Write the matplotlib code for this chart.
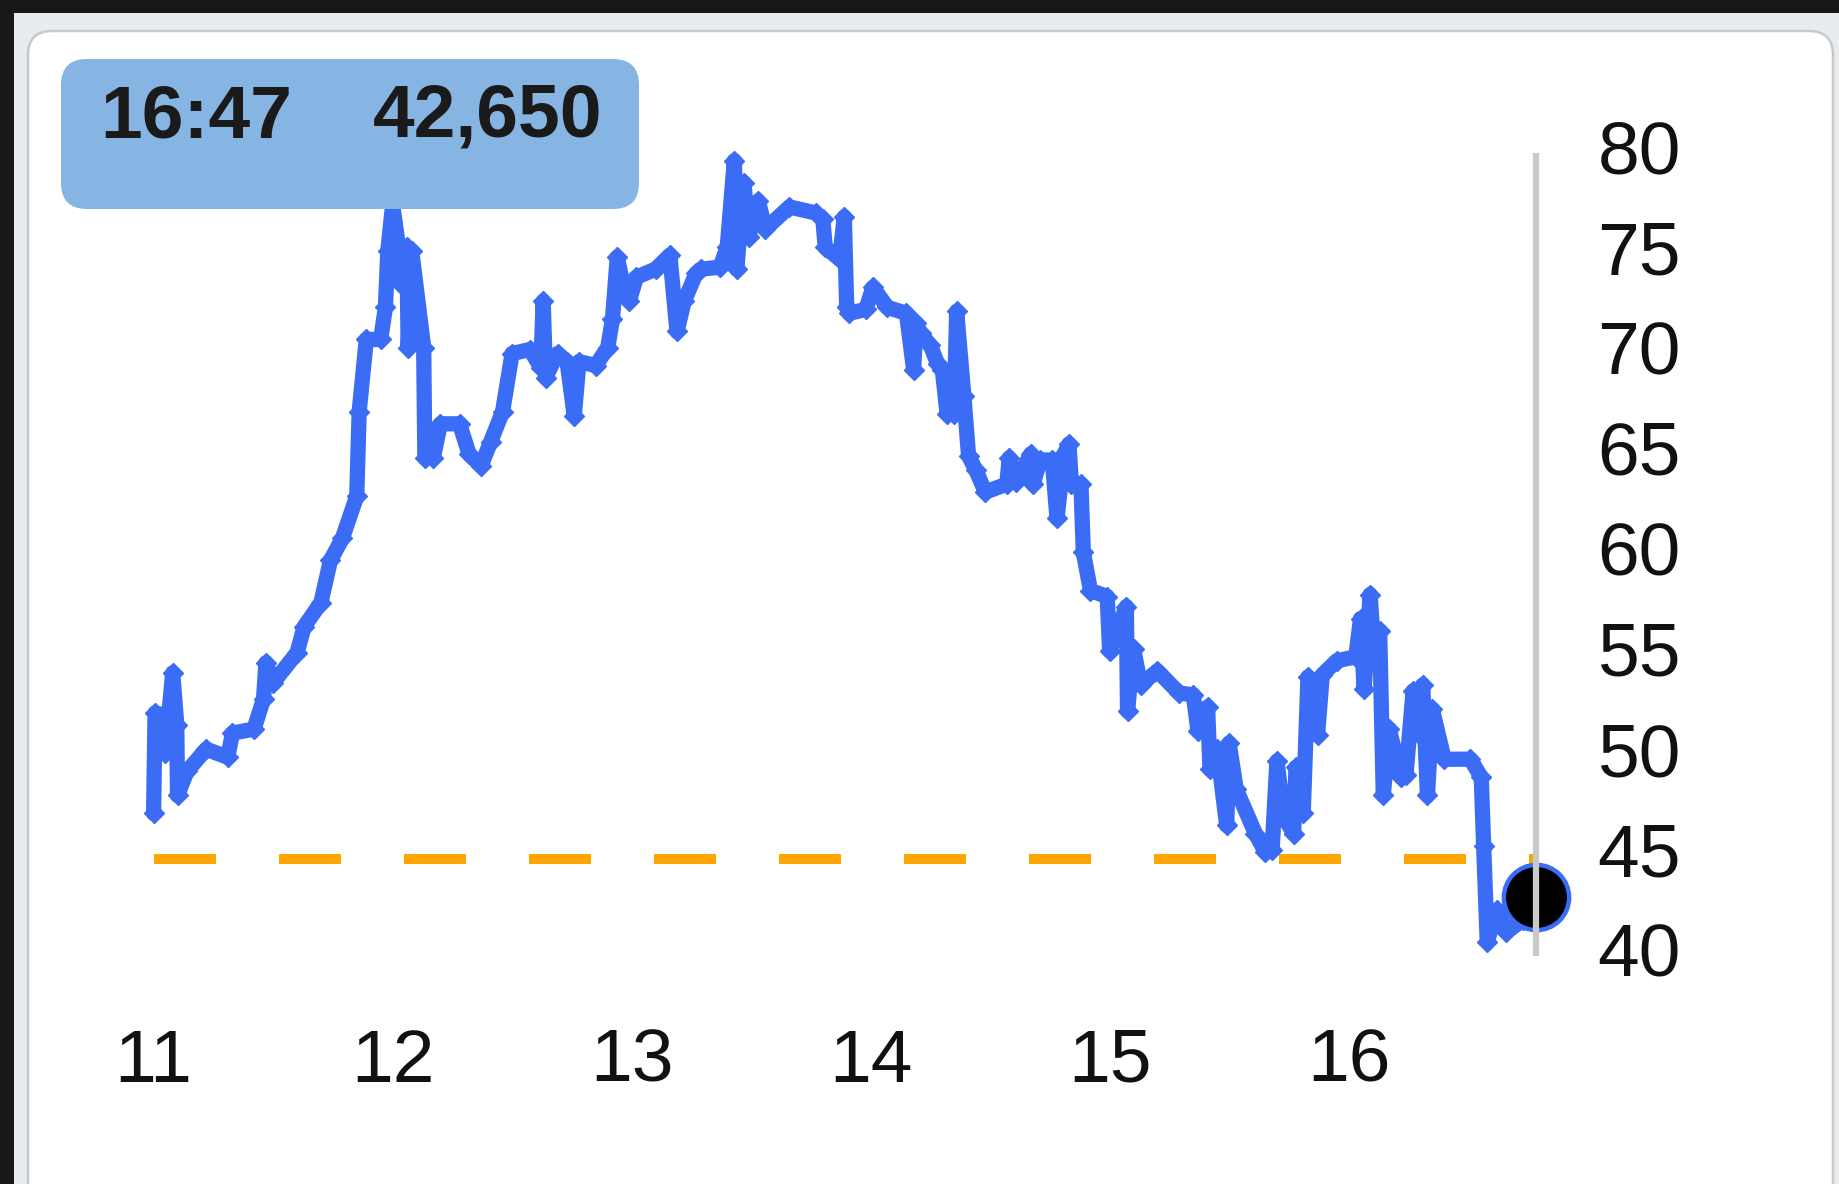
"""Intraday price line with reference level and current-time marker."""

import matplotlib

matplotlib.use("Agg")
import matplotlib.pyplot as plt
from matplotlib.patches import FancyBboxPatch, Rectangle

plt.rcParams["font.family"] = ["Liberation Sans", "DejaVu Sans"]

# hour of day (decimal) and price in thousands
hours = [
    11.00, 11.006, 11.04, 11.048, 11.08, 11.097, 11.10, 11.14, 11.22, 11.31,
    11.33, 11.42, 11.46, 11.47, 11.50, 11.60, 11.63, 11.70, 11.74, 11.79,
    11.85, 11.86, 11.89, 11.95, 11.97, 11.98, 12.00, 12.03, 12.04, 12.06,
    12.065, 12.08, 12.13, 12.135, 12.17, 12.20, 12.28, 12.32, 12.37, 12.41,
    12.46, 12.50, 12.575, 12.62, 12.63, 12.64, 12.69, 12.73, 12.76, 12.78,
    12.85, 12.90, 12.92, 12.94, 12.965, 12.99, 13.02, 13.10, 13.16, 13.19,
    13.22, 13.27, 13.29, 13.37, 13.40, 13.43, 13.44, 13.47, 13.49, 13.53,
    13.56, 13.66, 13.77, 13.80, 13.81, 13.87, 13.89, 13.90, 13.91, 13.98,
    14.01, 14.07, 14.15, 14.18, 14.19, 14.21, 14.25, 14.28, 14.30, 14.32,
    14.35, 14.36, 14.39, 14.41, 14.44, 14.48, 14.57, 14.58, 14.61, 14.67,
    14.68, 14.71, 14.76, 14.78, 14.81, 14.83, 14.84, 14.88, 14.89, 14.92,
    14.99, 15.00, 15.07, 15.075, 15.10, 15.13, 15.20, 15.29, 15.35, 15.37,
    15.41, 15.42, 15.45, 15.49, 15.50, 15.53, 15.61, 15.65, 15.68, 15.70,
    15.73, 15.77, 15.78, 15.81, 15.83, 15.87, 15.89, 15.95, 16.03, 16.05,
    16.065, 16.09, 16.10, 16.13, 16.145, 16.17, 16.22, 16.24, 16.27, 16.29,
    16.31, 16.33, 16.35, 16.40, 16.51, 16.555, 16.565, 16.58, 16.62, 16.66,
    16.73, 16.7833,
]
prices = [
    46.8, 51.8, 51.7, 49.8, 53.8, 51.2, 47.7, 48.9, 50.0, 49.6,
    50.8, 51.0, 52.5, 54.3, 53.3, 54.8, 56.1, 57.3, 59.4, 60.5,
    62.6, 66.8, 70.4, 70.4, 72.0, 74.8, 77.1, 74.6, 73.1, 75.0,
    70.0, 74.8, 70.0, 64.5, 64.5, 66.2, 66.2, 64.7, 64.1, 65.3,
    66.8, 69.7, 69.9, 69.0, 72.3, 68.5, 69.7, 69.3, 66.6, 69.3,
    69.1, 70.0, 71.4, 74.5, 73.1, 72.3, 73.5, 73.9, 74.6, 70.8,
    72.3, 73.7, 73.9, 74.0, 75.0, 79.3, 73.9, 78.2, 75.5, 77.3,
    75.9, 77.0, 76.7, 76.4, 75.0, 74.4, 76.5, 72.0, 71.7, 71.9,
    73.0, 72.0, 71.7, 68.9, 71.2, 70.7, 70.1, 69.2, 68.9, 66.7,
    66.7, 71.8, 67.6, 64.6, 63.9, 62.8, 63.2, 64.5, 63.3, 64.7,
    63.2, 64.4, 64.4, 61.5, 64.7, 65.2, 63.2, 63.2, 59.8, 57.9,
    57.6, 54.9, 57.1, 51.9, 55.0, 53.2, 53.9, 52.8, 52.7, 50.9,
    52.1, 49.0, 50.0, 46.2, 50.3, 48.0, 45.8, 44.9, 45.0, 49.4,
    46.6, 45.8, 49.1, 46.8, 53.6, 50.7, 53.7, 54.4, 54.6, 56.5,
    53.0, 57.7, 55.9, 55.9, 47.7, 51.0, 48.6, 48.7, 52.9, 50.8,
    53.2, 47.7, 52.0, 49.5, 49.5, 48.6, 45.2, 40.4, 42.0, 40.9,
    41.5, 42.65,
]

x_ticks = [11, 12, 13, 14, 15, 16]
y_ticks = [40, 45, 50, 55, 60, 65, 70, 75, 80]
reference_level = 44.55
now_label = "16:47"
price_label = "42,650"

BLUE = "#3a6cf6"
W, H = 1839, 1184

fig = plt.figure(figsize=(W / 100, H / 100), dpi=100, facecolor="#171717")

# background frame and card, drawn in pixel units
bg = fig.add_axes([0, 0, 1, 1], zorder=-1)
bg.set_xlim(0, W)
bg.set_ylim(H, 0)
bg.axis("off")
bg.add_patch(Rectangle((14, 13), W, H, fc="#e9ecef", ec="none"))
bg.add_patch(FancyBboxPatch((28, 31), 1805, 1300,
                            boxstyle="round,pad=0,rounding_size=24",
                            fc="white", ec="#c6c8ca", lw=1.8))

# main plot area
ax = fig.add_axes([100 / W, (H - 1000) / H, 1460 / W, 870 / H])
ax.set_xlim(10.7757, 16.8845)
ax.set_ylim(37.51, 80.83)
ax.patch.set_alpha(0)
for s in ax.spines.values():
    s.set_visible(False)

now = hours[-1]
ax.plot([hours[0], now], [reference_level, reference_level], color="#ffa500",
        lw=7.2, linestyle=(0, (6.2, 6.3)), dash_capstyle="butt", zorder=2)
ax.plot(hours, prices, color=BLUE, lw=11, marker="D", markersize=10,
        solid_joinstyle="round", solid_capstyle="round", zorder=3)
ax.plot([now], [prices[-1]], marker="o", markersize=47, color="black",
        markeredgecolor=BLUE, markeredgewidth=3.2, zorder=4, clip_on=False)
ax.plot([now, now], [39.7, 79.7], color="#c9c9c9", lw=4.5,
        solid_capstyle="butt", zorder=5)

ax.set_xticks(x_ticks)
ax.set_xticklabels([str(t) for t in x_ticks])
ax.yaxis.tick_right()
ax.set_yticks(y_ticks)
ax.set_yticklabels([str(t) for t in y_ticks])
ax.tick_params(axis="x", length=0, pad=20, labelsize=54, labelcolor="#111111")
ax.tick_params(axis="y", length=0, pad=27, labelsize=54, labelcolor="#111111")

# tooltip box above the plot
top = fig.add_axes([0, 0, 1, 1], zorder=10)
top.set_xlim(0, W)
top.set_ylim(H, 0)
top.axis("off")
top.add_patch(FancyBboxPatch((61, 59), 578, 150,
                             boxstyle="round,pad=0,rounding_size=26",
                             fc="#86b5e4", ec="none"))
top.text(100, 137, now_label, fontsize=54, fontweight="bold",
         color="#1a1a1a", ha="left", va="baseline")
top.text(373, 137, price_label, fontsize=54, fontweight="bold",
         color="#1a1a1a", ha="left", va="baseline")

fig.savefig("out.png", dpi=100, facecolor=fig.get_facecolor())
plt.close(fig)
